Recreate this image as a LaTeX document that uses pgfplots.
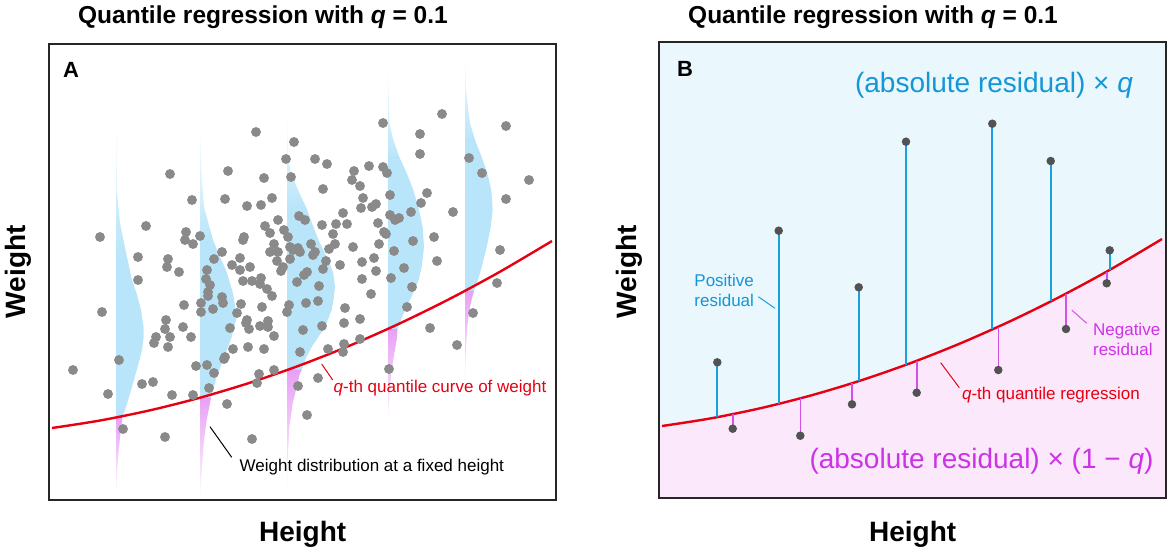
\documentclass[border=0pt]{standalone}
\usepackage{fontspec}
\setmainfont{Liberation Sans}
\usepackage{pgfplots}
\pgfplotsset{compat=1.18}
\usetikzlibrary{fadings}

\definecolor{ptgray}{RGB}{138,138,138}
\definecolor{ptdark}{RGB}{82,82,82}
\definecolor{skyA}{RGB}{185,229,250}
\definecolor{pinkA}{RGB}{232,160,245}
\definecolor{redC}{RGB}{230,0,18}
\definecolor{bgBlue}{RGB}{234,247,253}
\definecolor{bgPink}{RGB}{251,233,251}
\definecolor{resBlue}{RGB}{26,160,226}
\definecolor{resMag}{RGB}{214,80,232}
\definecolor{txtBlue}{RGB}{20,150,215}
\definecolor{txtMag}{RGB}{204,51,230}

\tikzfading[name=fadetop, top color=transparent!100, bottom color=transparent!0]
\tikzfading[name=fadebot, top color=transparent!0, bottom color=transparent!100]

% pixel-like units: 1 unit = 0.5pt, y grows downwards
\pgfplotsset{
  panel/.style={
    width=253.5pt, height=228pt, scale only axis,
    xmin=49, xmax=556, ymin=44, ymax=500, y dir=reverse,
    xtick=\empty, ytick=\empty, clip=false, axis on top,
    axis line style={line width=1pt, black!85},
  },
  tail/.style={draw=none, fill=skyA, path fading=fadetop, blend mode=multiply},
  body/.style={draw=none, fill=skyA, blend mode=multiply},
  below/.style={draw=none, fill=pinkA, path fading=fadebot, blend mode=multiply},
}
\tikzset{
  titlefont/.style={font=\fontsize{12.25}{14}\selectfont\bfseries},
  labfont/.style={font=\fontsize{14}{16}\selectfont\bfseries},
  smallfont/.style={font=\fontsize{8.5}{10}\selectfont},
  bigfont/.style={font=\fontsize{14}{16}\selectfont},
  letterfont/.style={font=\fontsize{11}{13}\selectfont\bfseries},
}

\begin{document}
\begin{tikzpicture}

% ---------------- panel A ----------------
\begin{axis}[panel]
\coordinate (bbtl) at (axis cs:0,0);
\coordinate (bbbr) at (axis cs:1170,552);

\addplot[only marks, mark=*, mark size=2.25pt, color=ptgray, mark options={draw=none, fill=ptgray}] coordinates {
(100,237) (170,174) (192,200) (146,226) (186,232) (185,240) (193,244) (200,236)
(138,257) (168,259) (167,267) (179,272) (138,280) (214,259) (207,270) (206,279)
(222,252) (228,171) (225,199) (256,132) (247,206) (264,178) (261,205) (272,198)
(243,240) (244,237) (240,258) (232,265) (240,270) (250,267) (243,281) (252,281)
(261,278) (278,220) (265,226) (270,233) (284,230) (274,244) (270,252) (278,252)
(277,261) (283,267) (281,271) (286,159) (294,142) (291,177) (299,216) (305,220)
(288,237) (290,247) (293,250) (298,248) (300,252) (290,259) (311,244) (315,252)
(313,255) (326,261) (323,269) (307,272) (304,275) (315,159) (327,164) (323,189)
(322,225) (336,224) (333,234) (335,244) (329,249) (340,265) (343,213)
(383,123) (354,171) (369,166) (383,167) (387,173) (352,180) (360,186) (363,198)
(361,208) (372,207) (376,204) (347,224) (353,247) (378,223) (384,232) (386,234)
(379,244) (374,258) (362,262) (376,271) (362,279) (390,195) (390,215) (395,220)
(399,218) (411,212) (413,241) (394,251) (404,268) (391,278) (420,134) (420,154)
(442,114) (427,193) (421,203) (453,212) (434,237) (437,261) (469,158) (482,173)
(506,126) (529,180) (506,199) (500,250)
(102,312) (73,370) (108,394) (119,360) (123,429) (165,437) (184,305) (166,320)
(165,329) (156,337) (154,343) (170,337) (168,347) (183,327) (191,337) (142,384)
(153,382) (172,395) (193,395) (196,366) (201,303) (201,312) (210,285) (208,292)
(208,296) (213,309) (222,297) (223,303) (230,328) (233,349) (225,357) (224,359)
(207,365) (214,373) (209,388) (227,404) (252,439) (260,284) (267,289) (272,296)
(241,304) (237,313) (262,307) (247,320) (246,323) (249,329) (260,326) (268,321)
(268,327) (274,336) (248,347) (264,349) (259,374) (257,383) (274,370) (287,312)
(289,305) (297,282) (306,303) (318,301) (319,286) (303,330) (322,326) (300,352)
(328,349) (298,386) (318,378) (307,415)
(371,294) (345,308) (344,323) (360,319) (360,339) (344,344) (343,352) (412,287)
(407,307) (389,369) (430,328) (457,345) (473,313) (497,283)
};

% weight distributions at fixed heights: fading upper tails
\addplot[tail] coordinates {(116,62) (116.3,150) (116.7,190) (120,223) (127,257) (116,257)};
\addplot[tail] coordinates {(200,120) (201.3,173) (204,207) (213,240) (200,240)};
\addplot[tail] coordinates {(287,103) (287.7,157) (291,173) (298,190) (306,207) (287,207)};
\addplot[tail] coordinates {(388,60) (389.3,123) (393.3,140) (399.3,157) (388,157)};
\addplot[tail] coordinates {(465,47) (466,90) (470,123) (475,140) (465,140)};

% bodies down to the curve
\addplot[body] coordinates {
(116,257) (127,257) (132,280) (136.5,293) (141,310) (143.5,327) (143.7,337) (142,350)
(139.5,360) (132,387) (126,407) (122.5,417) (116,417)};
\addplot[body] coordinates {
(200,240) (213,240) (220,257) (226,270) (233,293) (236.7,317) (231.7,337) (224.3,357)
(216.7,377) (211,397.7) (200,397.7)};
\addplot[body] coordinates {
(287,207) (306,207) (312,223) (318.5,240) (326.7,257) (333.3,273) (335,287) (333.5,300)
(331.7,310) (325,327) (311.7,347) (305,360) (301.7,370) (287,370)};
\addplot[body] coordinates {
(388,157) (399.3,157) (406.7,173) (413.3,190) (418.3,207) (422.7,227) (424,247) (421.7,267)
(418.7,280) (413.3,293) (405,310) (398.3,327) (397.5,328.8) (388,328.8)};
\addplot[body] coordinates {
(465,140) (475,140) (481.7,157) (487.3,173) (491.3,190) (492.7,210) (490.7,227) (486.7,247)
(481.7,267) (478,280) (474,290.8) (465,290.8)};

% the parts below the curve
\addplot[below] coordinates {
(116,417) (122.5,417) (121.3,427) (119,447) (117.3,467) (116.3,493) (116,498)};
\addplot[below] coordinates {
(200,397.7) (211,397.7) (210,403) (206.7,420) (204,440) (202,467) (200.7,493) (200,498)};
\addplot[below] coordinates {
(287,370) (301.7,370) (300,373) (296.7,387) (292.7,403) (289.3,427) (287.7,460) (287.3,487) (287,498)};
\addplot[below] coordinates {
(388,328.8) (397.5,328.8) (396.7,340) (394.3,353) (391.7,370) (389.3,393) (388.3,413) (388,435)};
\addplot[below] coordinates {
(465,290.8) (474,290.8) (472.3,297) (469.3,310) (467.3,327) (466,347) (465.3,370) (465,395)};

% q-th quantile curve
\addplot[redC, line width=1.2pt, smooth] coordinates {
(52,428) (100,420.5) (150,410.3) (200,397.7) (250,382.7) (300,365.3) (350,345.5)
(400,323.3) (450,298.7) (500,271.7) (552,241)};

\node[letterfont] at (axis cs:71,70) {A};
\draw[redC, line width=0.5pt] (axis cs:321.7,364) -- (axis cs:332.7,380);
\node[smallfont, text=redC, anchor=base west, inner sep=0pt] at (axis cs:333.3,392.3) {\textit{q}-th quantile curve of weight};
\draw[black, line width=0.5pt] (axis cs:210,426.7) -- (axis cs:231.7,457.3);
\node[smallfont, anchor=base west, inner sep=0pt] at (axis cs:239.3,471.7) {Weight distribution at a fixed height};

\node[titlefont, anchor=base, inner sep=0pt] at (axis cs:263,23.3) {Quantile regression with \textit{q} = 0.1};
\node[labfont, anchor=base, inner sep=0pt] at (axis cs:302.7,541.7) {Height};
\node[labfont, anchor=base, rotate=90, inner sep=0pt] at (axis cs:26,271.7) {Weight};
\end{axis}

% ---------------- panel B ----------------
\begin{axis}[panel, at={(305pt,1pt)}]
\addplot[draw=none, fill=bgBlue] coordinates {
(49,428.4) (52,428) (100,420.5) (150,410.3) (200,397.7) (250,382.7) (300,365.3) (350,345.5)
(400,323.3) (450,298.7) (500,271.7) (552,241) (556,238.6) (556,44) (49,44)};
\addplot[draw=none, fill=bgPink] coordinates {
(49,428.4) (52,428) (100,420.5) (150,410.3) (200,397.7) (250,382.7) (300,365.3) (350,345.5)
(400,323.3) (450,298.7) (500,271.7) (552,241) (556,238.6) (556,500) (49,500)};

\addplot[redC, line width=1.2pt, smooth] coordinates {
(52,428) (100,420.5) (150,410.3) (200,397.7) (250,382.7) (300,365.3) (350,345.5)
(400,323.3) (450,298.7) (500,271.7) (552,241)};

% positive residuals
\addplot[resBlue, line width=0.9pt, unbounded coords=jump] coordinates {
(107.3,364.3) (107.3,419.1) (107.3,nan)
(168.7,232.7) (168.7,405.9) (168.7,nan)
(248.7,289.3) (248.7,383) (248.7,nan)
(296,143.7) (296,366.7) (296,nan)
(382.3,125.7) (382.3,331.3) (382.3,nan)
(440.7,163) (440.7,303.4) (440.7,nan)
(499.7,252.3) (499.7,271.8)};
% negative residuals
\addplot[resMag, line width=0.8pt, unbounded coords=jump] coordinates {
(122.7,416.1) (122.7,430.7) (122.7,nan)
(190.3,400.3) (190.3,437.7) (190.3,nan)
(242,385.2) (242,406.3) (242,nan)
(306.7,362.8) (306.7,394.7) (306.7,nan)
(388.3,328.6) (388.3,372) (388.3,nan)
(456,295.6) (456,331) (456,nan)
(496.7,273.5) (496.7,285.3)};

\addplot[only marks, mark=*, mark size=1.9pt, mark options={draw=ptdark, fill=ptdark}] coordinates {
(107.3,364.3) (168.7,232.7) (248.7,289.3) (296,143.7) (382.3,125.7) (440.7,163) (499.7,252.3)
(122.7,430.7) (190.3,437.7) (242,406.3) (306.7,394.7) (388.3,372) (456,331) (496.7,285.3)};

\node[letterfont] at (axis cs:75,71.3) {B};
\node[bigfont, text=txtBlue, anchor=base, inner sep=0pt] at (axis cs:384,94.3) {(absolute residual) × \textit{q}};
\node[bigfont, text=txtMag, anchor=base, inner sep=0pt] at (axis cs:371.5,470.3) {(absolute residual) × (1 − \textit{q})};

\node[smallfont, text=txtBlue, anchor=base west, inner sep=0pt] at (axis cs:84,288.7) {Positive};
\node[smallfont, text=txtBlue, anchor=base west, inner sep=0pt] at (axis cs:84,308.7) {residual};
\draw[resBlue, line width=0.5pt] (axis cs:148.3,298.7) -- (axis cs:165,310.3);

\node[smallfont, text=txtMag, anchor=base west, inner sep=0pt] at (axis cs:482.7,337) {Negative};
\node[smallfont, text=txtMag, anchor=base west, inner sep=0pt] at (axis cs:482.7,357) {residual};
\draw[resMag, line width=0.5pt] (axis cs:461.7,312) -- (axis cs:476.7,325.3);

\node[smallfont, text=redC, anchor=base west, inner sep=0pt] at (axis cs:351.7,401.3) {\textit{q}-th quantile regression};
\draw[redC, line width=0.5pt] (axis cs:330.7,364.7) -- (axis cs:349.3,389.7);

\node[titlefont, anchor=base, inner sep=0pt] at (axis cs:263,25.3) {Quantile regression with \textit{q} = 0.1};
\node[labfont, anchor=base, inner sep=0pt] at (axis cs:302.7,543.7) {Height};
\node[labfont, anchor=base, rotate=90, inner sep=0pt] at (axis cs:26,273.7) {Weight};
\end{axis}

\pgfresetboundingbox
\useasboundingbox (bbtl) rectangle (bbbr);
\end{tikzpicture}
\end{document}
